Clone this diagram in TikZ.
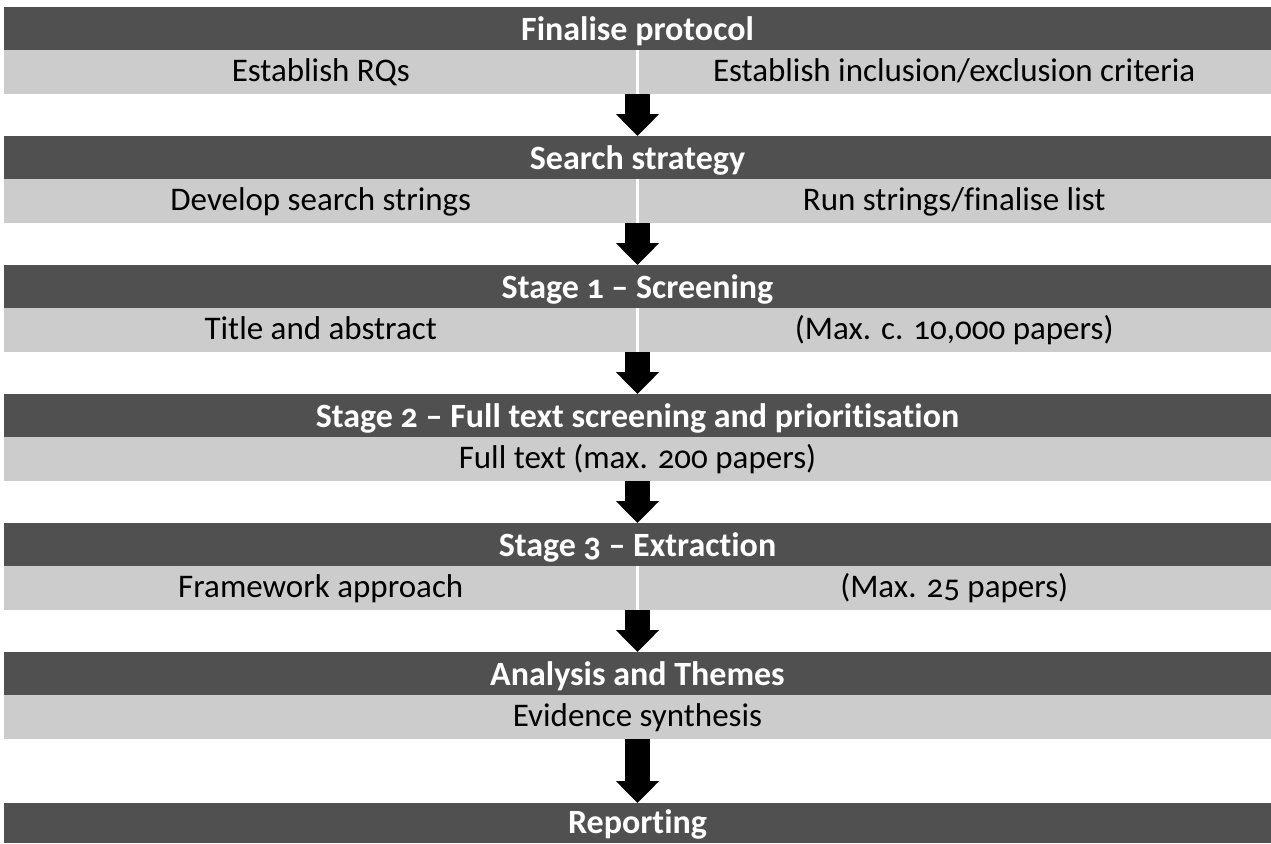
\documentclass[tikz,border=0pt]{standalone}
\usepackage{fontspec}
\setmainfont[Numbers=OldStyle, RawFeature={-liga;-clig;-calt;-dlig}]{Carlito}
\usetikzlibrary{arrows.meta, calc, positioning}
\definecolor{darkbar}{HTML}{505050}
\definecolor{lightbar}{HTML}{CCCCCC}
\tikzset{> = { Triangle[length = 11pt, width = 21pt] }}

\begin{document}
\begin{tikzpicture}[
		head/.style = { fill = darkbar, text = white, font = \fontsize{17}{19}\selectfont\bfseries, minimum width = 633.5pt, minimum height = 21.5pt, inner sep = 0pt, outer sep = 0pt, text height = 12pt, text depth = 0pt },
		band/.style = { fill = lightbar, minimum width = 633.5pt, minimum height = 22pt, inner sep = 0pt, outer sep = 0pt, font = \fontsize{16.5}{18}\selectfont, text height = 9.5pt, text depth = 0pt },
		cell/.style = { inner sep = 0pt, font = \fontsize{16.5}{18}\selectfont, text height = 9.5pt, text depth = 0pt },
		divider/.style = { draw = white, line width = 1.25pt },
		link/.style = { ->, line width = 12.5pt }]
		\useasboundingbox (0,0) rectangle (635.5pt,-421.5pt);

		\node [head, anchor = north west] (h1) at (2pt,-3.5pt) {Finalise protocol};
		\node [band, below = 0pt of h1] (l1) {};
		\node [head, below = 21pt of l1] (h2) {Search strategy};
		\node [band, below = 0pt of h2] (l2) {};
		\node [head, below = 21pt of l2] (h3) {Stage 1 – Screening};
		\node [band, below = 0pt of h3] (l3) {};
		\node [head, below = 21pt of l3] (h4) {Stage 2 – Full text screening and prioritisation};
		\node [band, below = 0pt of h4] (l4) {Full text (max. 200 papers)};
		\node [head, below = 21pt of l4] (h5) {Stage 3 – Extraction};
		\node [band, below = 0pt of h5] (l5) {};
		\node [head, below = 21pt of l5] (h6) {Analysis and Themes};
		\node [band, below = 0pt of h6] (l6) {Evidence synthesis};
		\node [head, below = 32pt of l6, minimum height = 20pt, text height = 10pt] (h7) {Reporting};

		\node [cell] (l1a) at ($(l1.west)!0.5!(l1.center)$) {Establish RQs};
		\node [cell] (l1b) at ($(l1.east)!0.5!(l1.center)$) {Establish inclusion/exclusion criteria};
		\node [cell] (l2a) at ($(l2.west)!0.5!(l2.center)$) {Develop search strings};
		\node [cell] (l2b) at ($(l2.east)!0.5!(l2.center)$) {Run strings/finalise list};
		\node [cell] (l3a) at ($(l3.west)!0.5!(l3.center)$) {Title and abstract};
		\node [cell] (l3b) at ($(l3.east)!0.5!(l3.center)$) {(Max. c. 10,000 papers)};
		\node [cell] (l5a) at ($(l5.west)!0.5!(l5.center)$) {Framework approach};
		\node [cell] (l5b) at ($(l5.east)!0.5!(l5.center)$) {(Max. 25 papers)};

		\draw [divider] (l1.north) -- (l1.south);
		\draw [divider] (l2.north) -- (l2.south);
		\draw [divider] (l3.north) -- (l3.south);
		\draw [divider] (l5.north) -- (l5.south);

		\draw [link] (l1.south) -- (h2.north);
		\draw [link] (l2.south) -- (h3.north);
		\draw [link] (l3.south) -- (h4.north);
		\draw [link] (l4.south) -- (h5.north);
		\draw [link] (l5.south) -- (h6.north);
		\draw [link] (l6.south) -- (h7.north);
	\end{tikzpicture}
\end{document}
